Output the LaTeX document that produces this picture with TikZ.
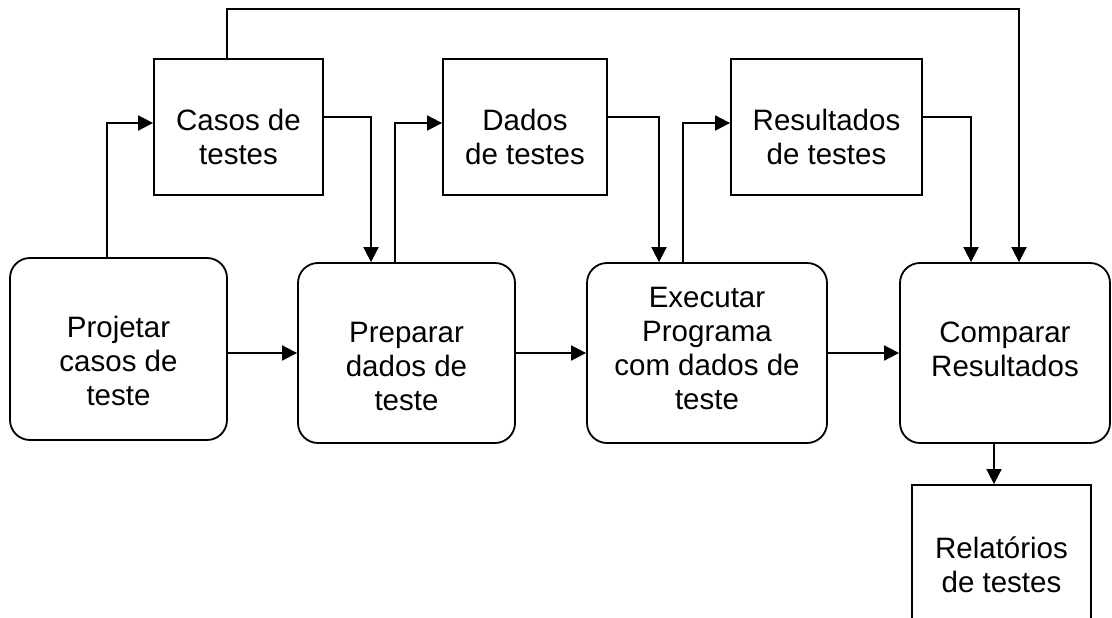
\documentclass[tikz,border=0pt]{standalone}
\usepackage{fontspec}
\setmainfont{Liberation Sans}
\usetikzlibrary{arrows.meta}
\begin{document}
\begin{tikzpicture}[x=1pt,y=-1pt,
  sq/.style={draw,line width=1.8pt,inner sep=0pt},
  rbox/.style={sq,rounded corners=20pt},
  txt/.style={inner sep=0pt,anchor=base,font=\fontsize{29.5}{34}\selectfont},
  arr/.style={line width=1.8pt,-{Triangle[length=15pt,width=15pt]}}]
\useasboundingbox (0,0) rectangle (1112,618);
% boxes
\node[sq,minimum width=169pt,minimum height=136pt] (casos) at (238.5,127) {};
\node[sq,minimum width=164pt,minimum height=136pt] (dados) at (525,127) {};
\node[sq,minimum width=191pt,minimum height=136pt] (res) at (826.5,127) {};
\node[rbox,minimum width=217pt,minimum height=182pt] (proj) at (118.5,349) {};
\node[rbox,minimum width=217pt,minimum height=180pt] (prep) at (406.5,353) {};
\node[rbox,minimum width=240pt,minimum height=180pt] (exec) at (707,353) {};
\node[rbox,minimum width=210pt,minimum height=180pt] (comp) at (1005,353) {};
\node[sq,minimum width=179pt,minimum height=155pt] (rel) at (1001.5,562.5) {};
% texts
\node[txt] (casosT) at (238.5,130) {\begin{tabular}[t]{@{}c@{}}Casos de\\testes\end{tabular}};
\node[txt] (dadosT) at (525,130) {\begin{tabular}[t]{@{}c@{}}Dados\\de testes\end{tabular}};
\node[txt] (resT) at (826.5,130) {\begin{tabular}[t]{@{}c@{}}Resultados\\de testes\end{tabular}};
\node[txt] (projT) at (118.5,337) {\begin{tabular}[t]{@{}c@{}}Projetar\\casos de\\teste\end{tabular}};
\node[txt] (prepT) at (406.5,342) {\begin{tabular}[t]{@{}c@{}}Preparar\\dados de\\teste\end{tabular}};
\node[txt] (execT) at (707,307) {\begin{tabular}[t]{@{}c@{}}Executar\\Programa\\com dados de\\teste\end{tabular}};
\node[txt] (compT) at (1005,342) {\begin{tabular}[t]{@{}c@{}}Comparar\\Resultados\end{tabular}};
\node[txt] (relT) at (1001.5,558) {\begin{tabular}[t]{@{}c@{}}Relatórios\\de testes\end{tabular}};
% main flow
\draw[arr] (proj.east |- prep.west) -- (prep.west);
\draw[arr] (prep.east) -- (exec.west);
\draw[arr] (exec.east) -- (comp.west);
% up and into the data boxes
\draw[arr] (proj.north -| 107,0) |- ([yshift=4pt]casos.west);
\draw[arr] (prep.north -| 395,0) |- ([yshift=4pt]dados.west);
\draw[arr] (exec.north -| 683,0) |- ([yshift=4pt]res.west);
% down from the data boxes
\draw[arr] ([yshift=10pt]casos.east) -| (prep.north -| 371,0);
\draw[arr] ([yshift=10pt]dados.east) -| (exec.north -| 659,0);
\draw[arr] ([yshift=10pt]res.east) -| (comp.north -| 971,0);
% long top connector
\coordinate (tr) at (1019,9);
\draw[arr] (casos.north -| 227,0) |- (tr) -- (comp.north -| tr);
% report
\draw[arr] (comp.south -| 994,0) -- (rel.north -| 994,0);
\end{tikzpicture}
\end{document}
